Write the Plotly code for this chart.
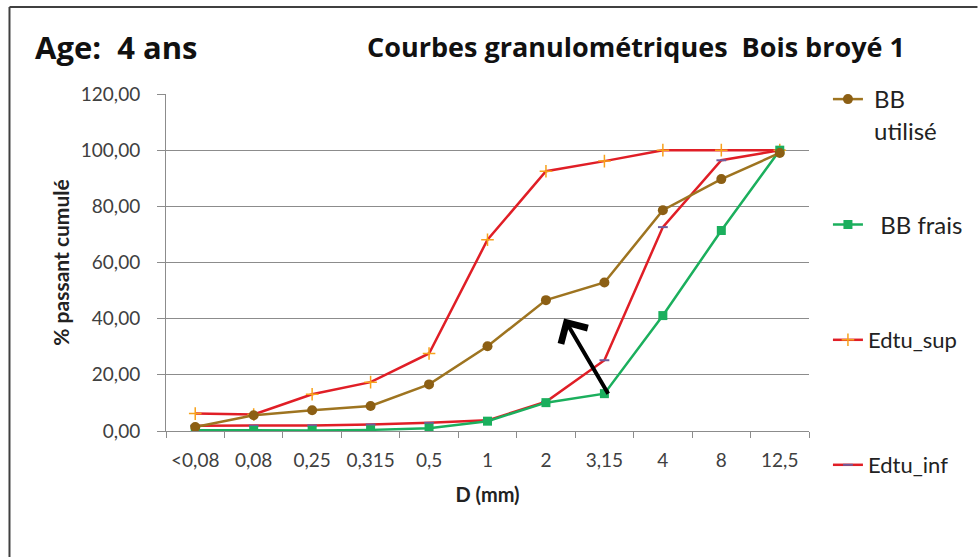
import plotly.graph_objects as go

categories = ["<0,08", "0,08", "0,25", "0,315", "0,5", "1", "2", "3,15", "4", "8", "12,5"]
bb_utilise = [1.4, 5.6, 7.4, 8.9, 16.6, 30.2, 46.6, 52.9, 78.6, 89.7, 99.0]
bb_frais = [0.3, 0.2, 0.2, 0.4, 1.0, 3.5, 10.1, 13.3, 41.1, 71.4, 100.0]
edtu_sup = [6.2, 5.9, 13.1, 17.4, 27.6, 68.1, 92.5, 96.1, 100.0, 100.0, 100.0]
edtu_inf = [1.9, 1.9, 2.0, 2.3, 2.9, 3.8, 10.4, 25.2, 72.6, 96.4, 100.0]

FONT = "Lato"
TFONT = "Open Sans"
BROWN = "#9E7420"
BROWN_M = "#8C5F14"
GREEN = "#1BAF5D"
RED = "#E01E26"
ORANGE = "#F7A21B"
PURPLE = "#6F5B9B"

W, H = 980, 557
L, R, T, B = 166, 169, 94, 126
PW, PH = W - L - R, H - T - B


def px(xp):
    return (xp - L) / PW


def py(yp):
    return (H - B - yp) / PH


fig = go.Figure()
fig.add_trace(go.Scatter(
    x=categories, y=edtu_inf, name="Edtu_inf", mode="lines+markers",
    line=dict(color=RED, width=2.5),
    marker=dict(symbol="line-ew", size=7, color=PURPLE, line=dict(color=PURPLE, width=2)),
    legend="legend4"))
fig.add_trace(go.Scatter(
    x=categories, y=edtu_sup, name="Edtu_sup", mode="lines+markers",
    line=dict(color=RED, width=2.5),
    marker=dict(symbol="cross-thin", size=9, color=ORANGE, line=dict(color=ORANGE, width=1.5)),
    legend="legend3"))
fig.add_trace(go.Scatter(
    x=categories, y=bb_frais, name="  BB frais", mode="lines+markers",
    line=dict(color=GREEN, width=2.5),
    marker=dict(symbol="square", size=9, color=GREEN),
    legend="legend2"))
fig.add_trace(go.Scatter(
    x=categories, y=bb_utilise, name=" BB<br> utilisé", mode="lines+markers",
    line=dict(color=BROWN, width=2.5),
    marker=dict(symbol="circle", size=10, color=BROWN_M),
    legend="legend"))

leg_common = dict(xanchor="left", yanchor="middle", bgcolor="rgba(0,0,0,0)",
                  itemwidth=30, tracegroupgap=0, valign="top")

fig.update_layout(
    width=W, height=H,
    margin=dict(l=L, r=R, t=T, b=B),
    paper_bgcolor="white", plot_bgcolor="white",
    separators=", ",
    font=dict(family=FONT, color="#404040", size=16),
    showlegend=True,
    legend=dict(x=px(830), y=py(115), font=dict(size=24, color="#222222"), **leg_common),
    legend2=dict(x=px(830), y=py(225), font=dict(size=24, color="#222222"), **leg_common),
    legend3=dict(x=px(830), y=py(340), font=dict(size=22, color="#222222"), **leg_common),
    legend4=dict(x=px(830), y=py(465), font=dict(size=22, color="#222222"), **leg_common),
    xaxis=dict(
        type="category", range=[-0.5, 10.5], tickson="boundaries",
        ticks="outside", ticklen=6, tickcolor="#8c8c8c",
        showline=True, linecolor="#8c8c8c", linewidth=1, showgrid=False,
        ticklabelstandoff=12,
        tickfont=dict(size=19, color="#404040"),
        title=dict(text="<b>D (mm)</b>", font=dict(size=20, color="#222222"), standoff=18),
    ),
    yaxis=dict(
        range=[0, 120], dtick=20, tickformat=".2f",
        ticks="outside", ticklen=8, tickcolor="#8c8c8c",
        showline=True, linecolor="#8c8c8c", linewidth=1,
        showgrid=True, gridcolor="#8c8c8c", gridwidth=1,
        ticklabelstandoff=13,
        tickfont=dict(size=19, color="#404040"),
        title=dict(text="<b>% passant cumulé</b>", font=dict(size=21, color="#222222"), standoff=5),
    ),
)

fig.add_annotation(
    x=6.31, y=40.1, ax=7.08, ay=12.75, xref="x", yref="y", axref="x", ayref="y",
    showarrow=True, arrowhead=4, arrowsize=1.5, arrowwidth=4, arrowcolor="black", text="")

fig.add_annotation(
    x=px(637), y=py(47), xref="paper", yref="paper", xanchor="center", yanchor="middle",
    text="<b>Courbes granulométriques  Bois broyé 1</b>", showarrow=False,
    font=dict(family=TFONT, size=27, color="#111111"))
fig.add_annotation(
    x=px(33), y=py(47), xref="paper", yref="paper", xanchor="left", yanchor="middle",
    text="<b>Age:  4 ans</b>", showarrow=False,
    font=dict(family=TFONT, size=31, color="#111111"))

# outer frame lines (top and left)
fig.add_shape(type="line", xref="paper", yref="paper",
              x0=px(9), y0=py(7), x1=px(980), y1=py(7), line=dict(color="#404040", width=2))
fig.add_shape(type="line", xref="paper", yref="paper",
              x0=px(9), y0=py(7), x1=px(9), y1=py(557), line=dict(color="#404040", width=2))

fig.write_html(
    "out.html",
    config={"displayModeBar": False},
    post_script="document.body.style.margin='0';document.body.style.overflow='hidden';",
)
